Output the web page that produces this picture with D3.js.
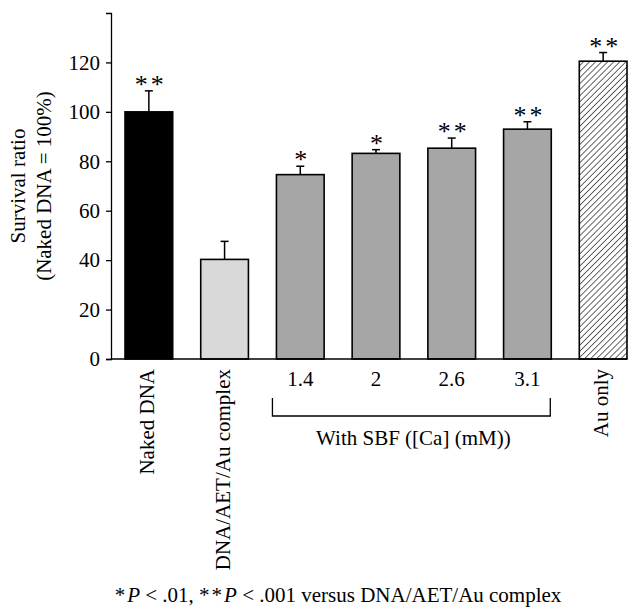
<!DOCTYPE html>
<html>
<head>
<meta charset="utf-8">
<script src="https://cdn.jsdelivr.net/npm/d3@7"></script>
<style>
  body { margin: 0; background: #fff; }
  text { font-family: "Liberation Serif", "Times New Roman", serif; fill: #000; }
</style>
</head>
<body>
<div id="chart"></div>
<script>
// chart data
const groups = ["Naked DNA", "DNA/AET/Au complex", "1.4", "2", "2.6", "3.1", "Au only"];
const means = [100, 40.3, 74.6, 83.2, 85.3, 93, 120.5];
const errors = [8.5, 7.3, 3.4, 1.5, 4.1, 3, 3.5];
const stars = ["**", "", "*", "*", "**", "**", "**"];
const fills = ["#000000", "#d9d9d9", "#a6a6a6", "#a6a6a6", "#a6a6a6", "#a6a6a6", "hatch"];
const rotated = [true, true, false, false, false, false, true];
const yTicks = [0, 20, 40, 60, 80, 100, 120];
const sbfGroups = ["1.4", "2", "2.6", "3.1"];

const width = 630, height = 609;
const margin = { top: 13, right: 2, bottom: 250, left: 111 };
const fontSize = "21px";

const svg = d3.select("#chart")
    .append("svg")
    .attr("width", width)
    .attr("height", height);

// hatch for the last bar
const defs = svg.append("defs");
defs.append("pattern")
    .attr("id", "hatch")
    .attr("patternUnits", "userSpaceOnUse")
    .attr("width", 4.3)
    .attr("height", 6)
    .attr("patternTransform", "rotate(45)")
    .append("line")
    .attr("x1", 0).attr("y1", 0)
    .attr("x2", 0).attr("y2", 6)
    .attr("stroke", "#000")
    .attr("stroke-width", 1.2);

const x = d3.scaleBand()
    .domain(groups)
    .range([margin.left, 641])
    .paddingInner(0.37)
    .paddingOuter(0.185);

const y = d3.scaleLinear()
    .domain([0, 140])
    .range([height - margin.bottom, margin.top]);

const g = svg.append("g");

// y axis
const yAxis = g.append("g")
    .attr("transform", `translate(${margin.left}, 0)`)
    .call(d3.axisLeft(y).tickValues(yTicks).tickSize(5).tickSizeOuter(5).tickPadding(6));
yAxis.select(".domain").attr("stroke-width", 1.3);
yAxis.selectAll(".tick line").attr("stroke-width", 1.3);
yAxis.selectAll(".tick text")
    .style("font-size", "21px")
    .style("font-family", "'Liberation Serif', serif")
    .attr("fill", "#000");

// bars
g.selectAll("rect.bar")
    .data(groups)
    .enter()
    .append("rect")
    .classed("bar", true)
    .attr("x", d => x(d))
    .attr("width", x.bandwidth())
    .attr("y", (d, i) => y(means[i]))
    .attr("height", (d, i) => y(0) - y(means[i]))
    .attr("fill", (d, i) => fills[i] === "hatch" ? "url(#hatch)" : fills[i])
    .attr("stroke", "#000")
    .attr("stroke-width", 1.6);

// error bars (upper half only)
const err = g.selectAll("g.err")
    .data(groups)
    .enter()
    .append("g")
    .classed("err", true);
err.append("line")
    .attr("x1", d => x(d) + x.bandwidth() / 2)
    .attr("x2", d => x(d) + x.bandwidth() / 2)
    .attr("y1", (d, i) => y(means[i]))
    .attr("y2", (d, i) => y(means[i] + errors[i]))
    .attr("stroke", "#000")
    .attr("stroke-width", 1.5);
err.append("line")
    .attr("x1", d => x(d) + x.bandwidth() / 2 - 4)
    .attr("x2", d => x(d) + x.bandwidth() / 2 + 4)
    .attr("y1", (d, i) => y(means[i] + errors[i]))
    .attr("y2", (d, i) => y(means[i] + errors[i]))
    .attr("stroke", "#000")
    .attr("stroke-width", 1.5);

// significance marks
g.selectAll("text.star")
    .data(groups)
    .enter()
    .append("text")
    .classed("star", true)
    .attr("x", d => x(d) + x.bandwidth() / 2 + 2)
    .attr("y", (d, i) => y(means[i] + errors[i]) - 11)
    .attr("dy", "0.5em")
    .attr("text-anchor", "middle")
    .style("font-size", "26px")
    .style("letter-spacing", "3px")
    .text((d, i) => stars[i]);

// x axis line
g.append("line")
    .attr("x1", margin.left)
    .attr("x2", x(groups[groups.length - 1]) + x.bandwidth())
    .attr("y1", y(0))
    .attr("y2", y(0))
    .attr("stroke", "#000")
    .attr("stroke-width", 1.3);

// category labels
g.selectAll("text.cat")
    .data(groups)
    .enter()
    .append("text")
    .classed("cat", true)
    .attr("transform", (d, i) => rotated[i]
        ? `translate(${x(d) + x.bandwidth() / 2 + 5}, ${y(0) + 10}) rotate(-90)`
        : `translate(${x(d) + x.bandwidth() / 2}, ${y(0) + 27})`)
    .attr("text-anchor", (d, i) => rotated[i] ? "end" : "middle")
    .style("font-size", fontSize)
    .text(d => d);

// bracket under the SBF group
const bx0 = x(sbfGroups[0]) - 4;
const bx1 = x(sbfGroups[sbfGroups.length - 1]) + x.bandwidth() - 1;
const by = y(0) + 57;
g.append("path")
    .attr("d", `M${bx0},${by - 18}V${by}H${bx1}V${by - 18}`)
    .attr("fill", "none")
    .attr("stroke", "#000")
    .attr("stroke-width", 1.3);
g.append("text")
    .attr("x", (bx0 + bx1) / 2 + 2)
    .attr("y", by + 29)
    .attr("text-anchor", "middle")
    .style("font-size", fontSize)
    .text("With SBF ([Ca] (mM))");

// y title
const yTitle = g.append("text")
    .attr("transform", `translate(25, ${(y(0) + y(140)) / 2}) rotate(-90)`)
    .attr("text-anchor", "middle")
    .style("font-size", fontSize);
yTitle.append("tspan").attr("x", 0).attr("dy", 0).text("Survival ratio");
yTitle.append("tspan").attr("x", 0).attr("dy", 26).text("(Naked DNA = 100%)");

// footnote
const foot = g.append("text")
    .attr("x", 338)
    .attr("y", 602)
    .attr("text-anchor", "middle")
    .style("font-size", "21px");
foot.append("tspan").text("*").style("letter-spacing", "2px");
foot.append("tspan").text("P").style("font-style", "italic");
foot.append("tspan").text(" < .01, ");
foot.append("tspan").text("**").style("letter-spacing", "2px");
foot.append("tspan").text("P").style("font-style", "italic");
foot.append("tspan").text(" < .001 versus DNA/AET/Au complex");
</script>
</body>
</html>
